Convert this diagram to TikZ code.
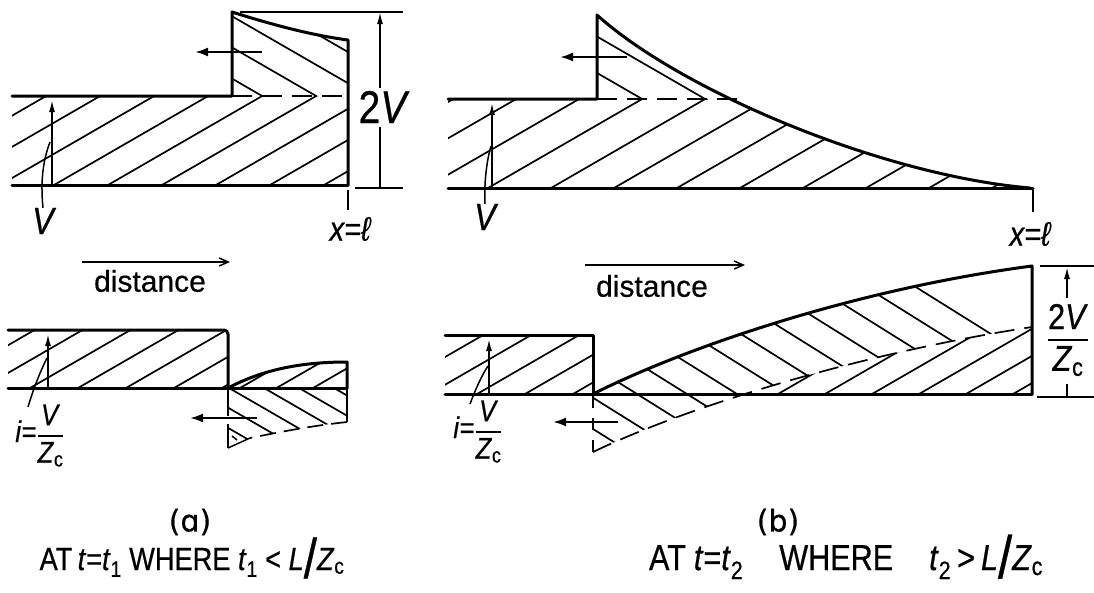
\documentclass[tikz,border=0pt]{standalone}
\usepackage{fontspec}
\setmainfont{Liberation Sans}
\newfontfamily\lf[FakeStretch=0.85,FakeBold=0.6]{Liberation Sans}
\newfontfamily\dv[FakeBold=0.6]{DejaVu Sans}
\newfontfamily\lfd[FakeBold=0.5]{Liberation Sans}
\usetikzlibrary{arrows.meta}
\newcommand\fs[1]{\fontsize{#1}{#1}\selectfont}
\newcommand\hatchset[6]{\foreach \hk in {0,...,#3}{\draw[hatch] ({#2+#4*\hk},#5) ++(#1+180:#6) -- ++(#1:2*#6);}}
\newcommand\vfrac[2]{$\displaystyle{\hbox{#1}\above 1.8pt\hbox{#2}}$}
\begin{document}
\begin{tikzpicture}[x=1pt,y=-1pt,
 outline/.style={line width=3pt,line join=round,line cap=round},
 hatch/.style={line width=1.7pt},
 thinl/.style={line width=1.5pt},
 dashl/.style={line width=1.7pt,dash pattern=on 20pt off 10pt},
 larrow/.style={line width=2.2pt,-{Latex[length=13pt,width=9pt]}},
 uparrow/.style={line width=1.6pt,-{Latex[length=12pt,width=6pt]}},
 darrow/.style={line width=1.5pt,-{Straight Barb[length=9pt,width=8pt]}},
 lbl/.style={inner sep=0pt,outer sep=0pt}]
\useasboundingbox (0,0) rectangle (1094,592);
\fill[white] (0,0) rectangle (1094,592);

% ================= (a) top : voltage =================
\begin{scope}\clip (12,96) rectangle (348,185); \hatchset{-30}{-108}{8}{54}{185}{300}\end{scope}
\begin{scope}\clip (232,96) -- (232,12) .. controls (270,24) and (310,35) .. (348,40) -- (348,96) -- cycle; \hatchset{30}{46.15}{9}{54}{96}{300}\end{scope}
\draw[outline] (12,96) -- (232,96) -- (232,12) .. controls (270,24) and (310,35) .. (348,40) -- (348,185);
\draw[outline] (12,185) -- (348,185);
\draw[dashl] (232,96) -- (348,96);
\draw[larrow] (262,52) -- (195,52);
\node[lbl,font=\lf\itshape\fs{38}] (Va) at (43,221) {V};
\coordinate (VaTip) at (52,100);
\draw[uparrow] (52,185) -- (VaTip);
\draw[thinl] (Va.north) .. controls (40,178) and (44,158) .. (50,142);
\node[lbl,font=\lf\fs{46}] (twoV) at (384,107) {2\textit{V}};
\coordinate (aTop) at (380,12);
\draw[thinl] (240,12) -- (403,12);
\draw[thinl] (355,188) -- (403,188);
\draw[thinl] (380,188) -- (380,127);
\draw[uparrow] (380,88) -- (aTop);
\draw[thinl] (348,190) -- (348,210);
\node[lbl,font=\lf\itshape\fs{34}] (xla) at (350,229) {x=ℓ};
\draw[darrow] (82,262) -- (230,262);
\node[lbl,font=\lfd\fs{30}] (dista) at (150,281) {distance};

% ================= (b) top : voltage =================
\begin{scope}
 \clip (448,99) rectangle (1030,188);
 \clip (440,200) -- (440,15) -- (597,15) .. controls (680,90) and (880,175) .. (1030,188) -- (1030,200) -- cycle;
 \hatchset{-30}{299}{12}{63}{188}{400}
\end{scope}
\begin{scope}
 \clip (597,0) rectangle (1030,99);
 \clip (597,15) .. controls (680,90) and (880,175) .. (1030,188) -- (597,188) -- cycle;
 \hatchset{30}{453.15}{8}{63}{99}{300}
\end{scope}
\draw[outline] (448,99) -- (597,99) -- (597,15) .. controls (680,90) and (880,175) .. (1030,188);
\draw[outline] (448,188) -- (1033,188);
\draw[dashl] (597,99) -- (740,99);
\draw[larrow] (627,57) -- (560,57);
\node[lbl,font=\lf\itshape\fs{38}] (Vb) at (485,217) {V};
\draw[uparrow] (492,188) -- (492,103);
\draw[thinl] (Vb.north) .. controls (484,180) and (487,160) .. (491,146);
\draw[thinl] (1033,190) -- (1033,212);
\node[lbl,font=\lf\itshape\fs{34}] (xlb) at (1030,234) {x=ℓ};
\draw[darrow] (585,265) -- (745,265);
\node[lbl,font=\lfd\fs{30}] (distb) at (652,286) {distance};

% ================= (a) bottom : current =================
\begin{scope}\clip (8,330) rectangle (228,388); \hatchset{-30}{-66}{6}{48}{388}{200}\end{scope}
\begin{scope}\clip (228,388) .. controls (262,370) and (300,362) .. (347,362) -- (347,388) -- cycle; \hatchset{-30}{240}{4}{36.5}{388}{120}\end{scope}
\begin{scope}\clip (228,388) -- (228,448) -- (250,438) .. controls (280,432) and (310,426) .. (347,422) -- (347,388) -- cycle; \hatchset{30}{159}{7}{35}{388}{150}\end{scope}
\draw[outline,rounded corners=4pt] (8,330) -- (228,330) -- (228,388);
\draw[outline] (8,388) -- (347,388);
\draw[outline] (228,388) .. controls (262,370) and (300,362) .. (347,362) -- (347,388);
\draw[thinl] (347,388) -- (347,422);
\draw[dashl,dash pattern=on 16pt off 8pt] (347,422) .. controls (310,426) and (280,432) .. (250,438);
\draw[thinl] (250,438) -- (228,448);
\draw[thinl,dash pattern=on 26pt off 8pt] (228,390) -- (228,448);
\draw[thinl] (232,436) -- (237,440);
\draw[larrow] (257,418) -- (190,418);
\node[lbl,font=\lf\fs{30},anchor=base] (ia) at (40,442) {\textit{i}=\vfrac{\textit{V}}{\textit{Z}\textsubscript{c}}};
\draw[uparrow] (48,388) -- (48,334);
\draw[thinl] (28,407) .. controls (33,390) and (40,372) .. (47,358);

% ================= (b) bottom : current =================
\begin{scope}\clip (445,335) rectangle (593,394); \hatchset{-30}{381}{5}{48}{394}{200}\end{scope}
\begin{scope}
 \clip (593,394) .. controls (680,350) and (850,290) .. (1032,266) -- (1032,327) .. controls (850,355) and (680,410) .. (593,452) -- cycle;
 \hatchset{32}{437}{13}{50}{394}{300}
\end{scope}
\begin{scope}
 \clip (593,0) rectangle (1032,394);
 \clip (593,452) .. controls (680,410) and (850,355) .. (1032,327) -- (1032,394) -- (593,394) -- cycle;
 \hatchset{-30}{684}{8}{47}{394}{200}
\end{scope}
\draw[outline] (445,335) -- (593,335) -- (593,394);
\draw[outline] (445,394) -- (1032,394);
\draw[outline] (593,394) .. controls (680,350) and (850,290) .. (1032,266) -- (1032,394);
\draw[dashl] (593,452) .. controls (680,410) and (850,355) .. (1032,327);
\draw[thinl,dash pattern=on 12pt off 10pt] (593,396) -- (593,452);
\draw[larrow] (618,422) -- (553,422);
\node[lbl,font=\lf\fs{30},anchor=base] (ib) at (478,438) {\textit{i}=\vfrac{\textit{V}}{\textit{Z}\textsubscript{c}}};
\draw[uparrow] (489,394) -- (489,339);
\draw[thinl] (470,404) .. controls (476,388) and (482,375) .. (488,366);
\draw[thinl] (1040,266) -- (1094,266);
\draw[thinl] (1037,397) -- (1094,397);
\draw[uparrow] (1067,298) -- (1067,267);
\draw[thinl] (1067,384) -- (1067,397);
\node[lbl,font=\lf\fs{36}] (twoVZ) at (1068,340) {\vfrac{2\textit{V}}{\textit{Z}\textsubscript{c}}};

% ================= captions =================
\node[lbl,font=\dv\fs{30}] (capa) at (190,522) {(ɑ)};
\node[lbl,font=\lf\fs{32},anchor=base] (capa2) at (192,570) {AT\,\textit{t}=\textit{t}\textsubscript{1} WHERE \textit{t}\textsubscript{1} < \textit{L}\raisebox{-8pt}{\fs{56}/}\textit{Z}\textsubscript{c}};
\node[lbl,font=\dv\fs{30}] (capb) at (778,522) {(b)};
\node[lbl,font=\lf\fs{36},anchor=base] (capb2) at (846,570) {AT\hspace{8pt}\textit{t}=\textit{t}\textsubscript{2}\hspace{36pt}WHERE\hspace{36pt}\textit{t}\textsubscript{2}\hspace{6pt}>\hspace{6pt}\textit{L}\raisebox{-8pt}{\fs{60}/}\textit{Z}\textsubscript{c}};
\end{tikzpicture}
\end{document}
